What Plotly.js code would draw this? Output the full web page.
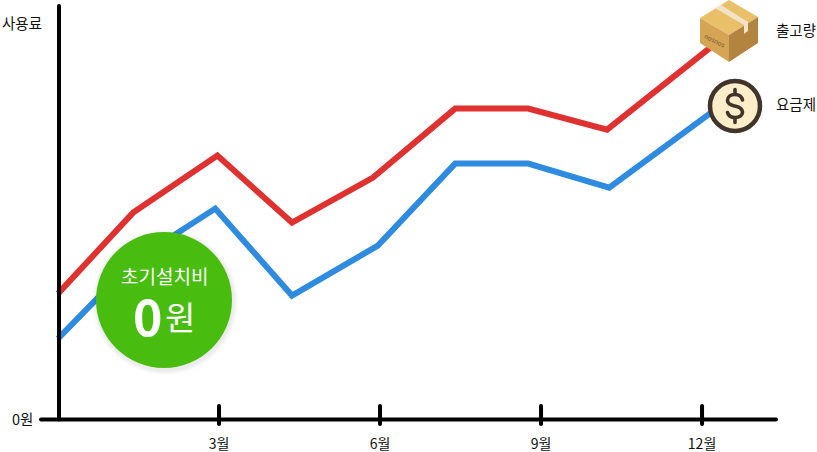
<!DOCTYPE html>
<html><head><meta charset="utf-8">
<script src="https://cdn.plot.ly/plotly-3.0.1.min.js"></script>
<style>html,body{margin:0;padding:0;background:#fff}#c{width:817px;height:452px}</style>
</head><body><div id="c"></div>
<script>
const redMonths=[0,1.4,2.97,4.36,5.87,7.4,8.76,10.23,12.2];
const redValues=[126,207,264,197,242,311,311,290,374];
const blueMonths=[0,1.4,2.93,4.36,5.96,7.4,8.76,10.27,12.27];
const blueValues=[81,158,211,124,174,256,256,232,311];
const tickMonths=[3,6,9,12];
const tickLabels=['3월','6월','9월','12월'];

const W=817,H=452,B=19,PH=H-B;
const FONT='"Noto Sans CJK KR","Noto Sans",sans-serif';
const pxPerMonth=53.67, xZero=58, yZero=419.6;
const xRange=[-xZero/pxPerMonth,(W-xZero)/pxPerMonth];
const yRange=[yZero-PH,yZero];
const mx=p=>(p-xZero)/pxPerMonth, vy=p=>yZero-p;

const base={xref:'x',yref:'y',layer:'above'};
const lineShape=(x0,y0,x1,y1,w)=>Object.assign({},base,{type:'line',x0,y0,x1,y1,line:{color:'#000',width:w}});
const poly=(pts,fill)=>Object.assign({},base,{type:'path',fillcolor:fill,line:{width:0},
  path:'M'+pts.map(p=>mx(p[0])+','+vy(p[1])).join(' L')+' Z'});
const circ=(cx,cy,r,fill,stroke,sw)=>Object.assign({},base,{type:'circle',x0:mx(cx-r),x1:mx(cx+r),y0:vy(cy-r),y1:vy(cy+r),
  fillcolor:fill,line:stroke?{color:stroke,width:sw}:{width:0}});
const curve=(segs,color,w)=>Object.assign({},base,{type:'path',line:{color,width:w},
  path:segs.map(s=>s[0]+s.slice(1).map(p=>mx(p[0])+','+vy(p[1])).join(' ')).join(' ')});

const shadow=[73,72,71,70,69].map(r=>circ(165,302,r,'rgba(0,0,0,0.016)'));
const cx=735,cy=106;
const dollar=[['M',[cx+7.5,cy-6]],
 ['C',[cx+6.5,cy-10],[cx+3.5,cy-11.5],[cx,cy-11.5]],
 ['C',[cx-4.5,cy-11.5],[cx-7.5,cy-9],[cx-7.5,cy-5.5]],
 ['C',[cx-7.5,cy-1.5],[cx-3.5,cy-1],[cx,cy]],
 ['C',[cx+4,cy+1],[cx+7.5,cy+2.5],[cx+7.5,cy+6]],
 ['C',[cx+7.5,cy+9.5],[cx+4.5,cy+11.5],[cx,cy+11.5]],
 ['C',[cx-4,cy+11.5],[cx-6.5,cy+10],[cx-7.5,cy+6.5]]];
const shapes=[
  ...shadow,
  circ(164,300,68,'#48bd10'),
  lineShape(mx(41),0,mx(776),0,4),
  lineShape(mx(59),0,mx(59),vy(6),4),
  ...tickMonths.map(m=>lineShape(m,vy(406),m,vy(424),4)),
  poly([[729,0],[758,17],[729,35],[700,18]],'#e9bf6a'),
  poly([[700,18],[729,35],[729,62],[700,43]],'#d5a455'),
  poly([[758,17],[729,35],[729,62],[758,43]],'#b3843f'),
  poly([[715,8],[721,5],[748,22],[748,31],[744,34],[744,25]],'#f3e3c6'),
  circ(cx,cy,25,'#fdedc9','#41352b',4.5),
  curve(dollar,'#41352b',3.6),
  curve([['M',[cx,cy-16.5]],['L',[cx,cy-12]]],'#41352b',3.6),
  curve([['M',[cx,cy+12]],['L',[cx,cy+16.5]]],'#41352b',3.6)
];
const note=(text,px,py,size,color,extra)=>Object.assign({text,xref:'x',yref:'y',x:mx(px),y:vy(py),showarrow:false,
  xanchor:'center',yanchor:'middle',font:{family:FONT,size,color}},extra||{});

const annotations=[
  note('사용료',22,22.5,14.5,'#111'),
  note('0원',22,418.5,14.5,'#111'),
  note('출고량',795.5,29.5,14.5,'#111'),
  note('요금제',795.5,103.5,14.5,'#111'),
  note('초기설치비',164,275.5,19,'#fff'),
  note('<b>0</b>',148,314,50,'#fff'),
  note('원',179.5,316,33,'#fff'),
  note('nosnos',715,40,6.5,'#7a5a2c',{textangle:27})
];

Plotly.newPlot('c',[
  {x:redMonths,y:redValues,type:'scatter',mode:'lines',line:{color:'#e03131',width:6},hoverinfo:'skip',cliponaxis:false},
  {x:blueMonths,y:blueValues,type:'scatter',mode:'lines',line:{color:'#2f8be0',width:6},hoverinfo:'skip',cliponaxis:false}
],{
  width:W,height:H,margin:{l:0,r:0,t:0,b:B,pad:0},showlegend:false,
  paper_bgcolor:'#fff',plot_bgcolor:'#fff',
  xaxis:{range:xRange,tickvals:tickMonths,ticktext:tickLabels,ticks:'',ticklabelstandoff:1,showgrid:false,zeroline:false,showline:false,
    tickfont:{family:FONT,size:14,color:'#111'},fixedrange:true},
  yaxis:{range:yRange,showticklabels:false,ticks:'',showgrid:false,zeroline:false,showline:false,fixedrange:true},
  shapes,annotations
},{displayModeBar:false,staticPlot:true}).then(()=>{
  document.querySelectorAll('.scatterlayer path.js-line').forEach(p=>{p.style.strokeLinejoin='miter';});
  document.querySelectorAll('.shapelayer path').forEach(p=>{p.style.strokeLinecap='round';});
});
</script></body></html>
